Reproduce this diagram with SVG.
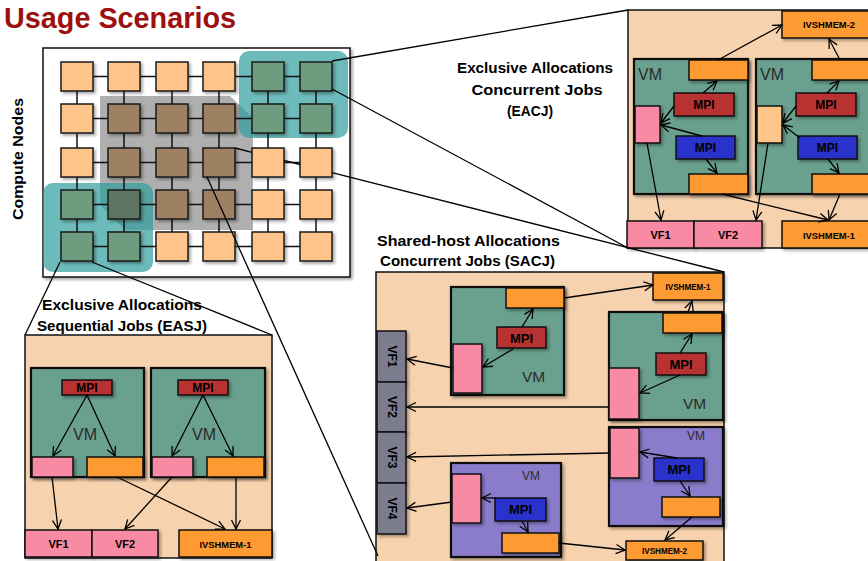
<svg xmlns="http://www.w3.org/2000/svg" width="868" height="561" viewBox="0 0 868 561">
<defs>
<filter id="sh" x="-20%" y="-20%" width="150%" height="150%"><feDropShadow dx="2" dy="2" stdDeviation="1.5" flood-color="#000" flood-opacity="0.35"/></filter>
<marker id="ah" markerUnits="userSpaceOnUse" markerWidth="12" markerHeight="12" refX="10" refY="6" orient="auto" viewBox="0 0 12 12"><path d="M1,1.5 L10,6 L1,10.5" fill="none" stroke="#000" stroke-width="1.3"/></marker>
</defs>
<style>
text{font-family:"Liberation Sans",Arial,sans-serif}
.t{font-weight:bold;fill:#000}
.c{text-anchor:middle}
.title{font-weight:bold;fill:#9E0F0F;font-size:30px}
.gn{stroke:#1a1a1a;stroke-width:1.5;filter:url(#sh)}
.o{fill:#FFC489}.g{fill:#6E9C7E}.b{fill:#9E8064}.d{fill:#5F7564}
.box{stroke:#111;stroke-width:1.5;filter:url(#sh)}
.vmg{fill:#6AA08E;stroke:#111;stroke-width:2.2;filter:url(#sh)}
.vmp{fill:#8A7CCB;stroke:#111;stroke-width:2.2;filter:url(#sh)}
.pnl{fill:#F6D2AE;stroke:#111;stroke-width:1.5}
.or{fill:#FD9A33}.pk{fill:#F98AA3}.rd{fill:#B93232}.bl{fill:#2B33CC}.lo{fill:#FFC68A}.vf{fill:#7C7B8F}
.ln{stroke:#000;stroke-width:1.3;fill:none}
.gl{stroke:#111;stroke-width:1.5;fill:none}
.ar{stroke:#000;stroke-width:1.3;fill:none;marker-end:url(#ah)}
.vm{fill:#2a2a2a}
</style>

<text class="title" x="4" y="28" textLength="232" lengthAdjust="spacingAndGlyphs">Usage Scenarios</text>
<text class="t c" font-size="14.5" transform="translate(23,159) rotate(-90)" textLength="122" lengthAdjust="spacingAndGlyphs">Compute Nodes</text>

<g id="grid-panel">
<rect x="43" y="48" width="307" height="229" fill="#fff" stroke="#111" stroke-width="1.5" filter="url(#sh)"/>
<polygon points="100,96 230,96 253,118 253,230 125,230 100,205" fill="#7a7a7a" fill-opacity="0.6"/>
<rect x="239" y="51" width="109" height="87" rx="10" fill="#2E9E9C" fill-opacity="0.7"/>
<rect x="43" y="183" width="110" height="89" rx="10" fill="#2E9E9C" fill-opacity="0.7"/>
</g>

<g id="connectors">
<path class="gl" d="M93,76.5H108M140,76.5H156M188,76.5H203M235,76.5H252M284,76.5H300
M93,118.5H108M140,118.5H156M188,118.5H203M235,118.5H252M284,118.5H300
M93,162.5H108M140,162.5H156M188,162.5H203M235,162.5H252M284,162.5H300
M93,204.5H108M140,204.5H156M188,204.5H203M235,204.5H252M284,204.5H300
M93,246.5H108M140,246.5H156M188,246.5H203M235,246.5H252M284,246.5H300
M77,91V104M77,133V148M77,177V190M77,219V232
M124,91V104M124,133V148M124,177V190M124,219V232
M172,91V104M172,133V148M172,177V190M172,219V232
M219,91V104M219,133V148M219,177V190M219,219V232
M268,91V104M268,133V148M268,177V190M268,219V232
M316,91V104M316,133V148M316,177V190M316,219V232"/>
</g>

<g id="n-r0c0"><rect class="gn o" x="61" y="62" width="32" height="29"/></g>
<g id="n-r0c1"><rect class="gn o" x="108" y="62" width="32" height="29"/></g>
<g id="n-r0c2"><rect class="gn o" x="156" y="62" width="32" height="29"/></g>
<g id="n-r0c3"><rect class="gn o" x="203" y="62" width="32" height="29"/></g>
<g id="n-r0c4"><rect class="gn g" x="252" y="62" width="32" height="29"/></g>
<g id="n-r0c5"><rect class="gn g" x="300" y="62" width="32" height="29"/></g>
<g id="n-r1c0"><rect class="gn o" x="61" y="104" width="32" height="29"/></g>
<g id="n-r1c1"><rect class="gn b" x="108" y="104" width="32" height="29"/></g>
<g id="n-r1c2"><rect class="gn b" x="156" y="104" width="32" height="29"/></g>
<g id="n-r1c3"><rect class="gn b" x="203" y="104" width="32" height="29"/></g>
<g id="n-r1c4"><rect class="gn g" x="252" y="104" width="32" height="29"/></g>
<g id="n-r1c5"><rect class="gn g" x="300" y="104" width="32" height="29"/></g>
<g id="n-r2c0"><rect class="gn o" x="61" y="148" width="32" height="29"/></g>
<g id="n-r2c1"><rect class="gn b" x="108" y="148" width="32" height="29"/></g>
<g id="n-r2c2"><rect class="gn b" x="156" y="148" width="32" height="29"/></g>
<g id="n-r2c3"><rect class="gn b" x="203" y="148" width="32" height="29"/></g>
<g id="n-r2c4"><rect class="gn o" x="252" y="148" width="32" height="29"/></g>
<g id="n-r2c5"><rect class="gn o" x="300" y="148" width="32" height="29"/></g>
<g id="n-r3c0"><rect class="gn g" x="61" y="190" width="32" height="29"/></g>
<g id="n-r3c1"><rect class="gn d" x="108" y="190" width="32" height="29"/></g>
<g id="n-r3c2"><rect class="gn b" x="156" y="190" width="32" height="29"/></g>
<g id="n-r3c3"><rect class="gn b" x="203" y="190" width="32" height="29"/></g>
<g id="n-r3c4"><rect class="gn o" x="252" y="190" width="32" height="29"/></g>
<g id="n-r3c5"><rect class="gn o" x="300" y="190" width="32" height="29"/></g>
<g id="n-r4c0"><rect class="gn g" x="61" y="232" width="32" height="29"/></g>
<g id="n-r4c1"><rect class="gn g" x="108" y="232" width="32" height="29"/></g>
<g id="n-r4c2"><rect class="gn o" x="156" y="232" width="32" height="29"/></g>
<g id="n-r4c3"><rect class="gn o" x="203" y="232" width="32" height="29"/></g>
<g id="n-r4c4"><rect class="gn o" x="252" y="232" width="32" height="29"/></g>
<g id="n-r4c5"><rect class="gn o" x="300" y="232" width="32" height="29"/></g>

<!-- EACJ -->
<g id="eacj-panel"><rect class="pnl" x="628" y="10" width="260" height="238"/></g>
<g id="eacj-label">
<text class="t c" font-size="15.5" x="535" y="73" textLength="156" lengthAdjust="spacingAndGlyphs">Exclusive Allocations</text>
<text class="t c" font-size="15.5" x="537" y="95" textLength="131" lengthAdjust="spacingAndGlyphs">Concurrent Jobs</text>
<text class="t c" font-size="15.5" x="530" y="116" textLength="46" lengthAdjust="spacingAndGlyphs">(EACJ)</text>
</g>
<g id="eacj-ivshmem2"><rect class="box or" x="782" y="11" width="90" height="27"/><text class="t c" font-size="9.5" x="829" y="28" textLength="52" lengthAdjust="spacingAndGlyphs">IVSHMEM-2</text></g>
<g id="eacj-vm1">
<rect class="vmg" x="634" y="59" width="114" height="135"/>
<text class="vm" font-size="16" x="638" y="80">VM</text>
<rect class="box or" x="689" y="60" width="59" height="20"/>
<rect class="box rd" x="674" y="93" width="60" height="23"/><text class="t c" font-size="12" x="704" y="109">MPI</text>
<rect class="box pk" x="635" y="106" width="25" height="37"/>
<rect class="box bl" x="676" y="136" width="59" height="23"/><text class="t c" font-size="12" x="705.5" y="152">MPI</text>
<rect class="box or" x="689" y="174" width="59" height="20"/>
</g>
<g id="eacj-vm2">
<rect class="vmg" x="756" y="59" width="116" height="135"/>
<text class="vm" font-size="16" x="760" y="80">VM</text>
<rect class="box or" x="812" y="60" width="60" height="20"/>
<rect class="box rd" x="796" y="93" width="60" height="23"/><text class="t c" font-size="12" x="826" y="109">MPI</text>
<rect class="box lo" x="757" y="106" width="25" height="37"/>
<rect class="box bl" x="798" y="136" width="59" height="23"/><text class="t c" font-size="12" x="827.5" y="152">MPI</text>
<rect class="box or" x="812" y="174" width="60" height="20"/>
</g>
<g id="eacj-vf1"><rect class="box pk" x="627" y="221" width="67" height="27"/><text class="t c" font-size="11" x="660.5" y="239">VF1</text></g>
<g id="eacj-vf2"><rect class="box pk" x="694" y="221" width="68" height="27"/><text class="t c" font-size="11" x="728" y="239">VF2</text></g>
<g id="eacj-ivshmem1"><rect class="box or" x="782" y="221" width="90" height="27"/><text class="t c" font-size="9.5" x="829" y="239" textLength="52" lengthAdjust="spacingAndGlyphs">IVSHMEM-1</text></g>

<!-- SACJ -->
<g id="sacj-label">
<text class="t" font-size="15.5" x="377" y="246" textLength="183" lengthAdjust="spacingAndGlyphs">Shared-host Allocations</text>
<text class="t" font-size="15.5" x="380" y="266" textLength="175" lengthAdjust="spacingAndGlyphs">Concurrent Jobs (SACJ)</text>
</g>
<g id="sacj-panel"><rect class="pnl" x="376" y="272" width="348" height="300"/></g>
<g id="sacj-ivshmem1"><rect class="box or" x="653" y="273" width="70" height="27"/><text class="t c" font-size="8.5" x="688" y="290" textLength="45" lengthAdjust="spacingAndGlyphs">IVSHMEM-1</text></g>
<g id="sacj-vf1"><rect class="box vf" x="377" y="331" width="29" height="51"/><text class="t c" font-size="12" transform="translate(387.5,356.5) rotate(90)">VF1</text></g>
<g id="sacj-vf2"><rect class="box vf" x="377" y="382" width="29" height="50"/><text class="t c" font-size="12" transform="translate(387.5,407) rotate(90)">VF2</text></g>
<g id="sacj-vf3"><rect class="box vf" x="377" y="432" width="29" height="51"/><text class="t c" font-size="12" transform="translate(387.5,457.5) rotate(90)">VF3</text></g>
<g id="sacj-vf4"><rect class="box vf" x="377" y="483" width="29" height="51"/><text class="t c" font-size="12" transform="translate(387.5,508.5) rotate(90)">VF4</text></g>
<g id="sacj-vm1">
<rect class="vmg" x="451" y="287" width="113" height="108"/>
<rect class="box or" x="506" y="288" width="58" height="20"/>
<rect class="box rd" x="497" y="327" width="49" height="21"/><text class="t c" font-size="13" x="521.5" y="342.5">MPI</text>
<rect class="box pk" x="453" y="344" width="29" height="49"/>
<text class="vm" font-size="15.5" x="522" y="382">VM</text>
</g>
<g id="sacj-vm2">
<rect class="vmg" x="609" y="312" width="114" height="108"/>
<rect class="box or" x="663" y="313" width="59" height="20"/>
<rect class="box rd" x="656" y="353" width="50" height="22"/><text class="t c" font-size="13" x="681" y="368.5">MPI</text>
<rect class="box pk" x="609" y="368" width="30" height="51"/>
<text class="vm" font-size="15.5" x="683" y="409">VM</text>
</g>
<g id="sacj-vm3">
<rect class="vmp" x="609" y="427" width="114" height="99"/>
<rect class="box pk" x="610" y="428" width="29" height="50"/>
<rect class="box bl" x="654" y="458" width="50" height="23"/><text class="t c" font-size="13" x="679" y="474">MPI</text>
<rect class="box or" x="662" y="497" width="58" height="20"/>
<text class="vm" font-size="12" x="687" y="440">VM</text>
</g>
<g id="sacj-vm4">
<rect class="vmp" x="451" y="463" width="110" height="94"/>
<rect class="box pk" x="452" y="474" width="29" height="49"/>
<rect class="box bl" x="495" y="498" width="51" height="23"/><text class="t c" font-size="13" x="520.5" y="514">MPI</text>
<rect class="box or" x="502" y="533" width="57" height="20"/>
<text class="vm" font-size="12" x="522" y="480">VM</text>
</g>
<g id="sacj-ivshmem2"><rect class="box or" x="626" y="541" width="77" height="19"/><text class="t c" font-size="8.5" x="664.5" y="554" textLength="45" lengthAdjust="spacingAndGlyphs">IVSHMEM-2</text></g>

<!-- EASJ -->
<g id="easj-label">
<text class="t" font-size="15.5" x="42" y="310" textLength="160" lengthAdjust="spacingAndGlyphs">Exclusive Allocations</text>
<text class="t" font-size="15.5" x="37" y="331" textLength="170" lengthAdjust="spacingAndGlyphs">Sequential Jobs (EASJ)</text>
</g>
<g id="easj-panel"><rect class="pnl" x="25" y="335" width="247" height="223"/></g>
<g id="easj-vm1">
<rect class="vmg" x="31" y="368" width="113" height="109"/>
<rect class="box rd" x="62" y="380" width="50" height="15"/><text class="t c" font-size="12" x="87" y="392">MPI</text>
<text class="vm" font-size="16" x="73" y="440">VM</text>
<rect class="box pk" x="32" y="457" width="41" height="20"/>
<rect class="box or" x="87" y="457" width="56" height="20"/>
</g>
<g id="easj-vm2">
<rect class="vmg" x="151" y="368" width="114" height="109"/>
<rect class="box rd" x="178" y="380" width="50" height="15"/><text class="t c" font-size="12" x="203" y="392">MPI</text>
<text class="vm" font-size="16" x="192" y="440">VM</text>
<rect class="box pk" x="152" y="457" width="41" height="20"/>
<rect class="box or" x="207" y="457" width="57" height="20"/>
</g>
<g id="easj-vf1"><rect class="box pk" x="25" y="530" width="67" height="27"/><text class="t c" font-size="11" x="58.5" y="548">VF1</text></g>
<g id="easj-vf2"><rect class="box pk" x="92" y="530" width="66" height="27"/><text class="t c" font-size="11" x="125" y="548">VF2</text></g>
<g id="easj-ivshmem1"><rect class="box or" x="179" y="530" width="93" height="27"/><text class="t c" font-size="9.5" x="225.5" y="548" textLength="52" lengthAdjust="spacingAndGlyphs">IVSHMEM-1</text></g>

<g id="callouts-and-arrows">
<path class="ln" d="M332,61 L628,10"/>
<path class="ln" d="M332,89 L628,248"/>
<path class="ln" d="M235,148 L252,152.3 M284,160.4 L300,164.5 M332,172.6 L724,272"/>
<path class="ln" d="M207,177 L378,556"/>
<path class="ln" d="M60,262 L25,335"/>
<path class="ln" d="M92,262 L272,335"/>
<path class="ar" d="M718,60 L782,25"/>
<path class="ar" d="M840,60 L829,39"/>
<path class="ar" d="M703,93 L717,81"/>
<path class="ar" d="M827,93 L839,81"/>
<path class="ar" d="M674,106 L661,123"/>
<path class="ar" d="M796,106 L783,123"/>
<path class="ar" d="M702,136 L661,125"/>
<path class="ar" d="M800,138 L783,125"/>
<path class="ar" d="M706,159 L717,173"/>
<path class="ar" d="M828,159 L839,173"/>
<path class="ar" d="M647,143 L661,220"/>
<path class="ar" d="M768,143 L756,220"/>
<path class="ar" d="M722,194 L828,220"/>
<path class="ar" d="M840,194 L829,220"/>
<path class="ar" d="M522,327 L533,309"/>
<path class="ar" d="M513,349 L483,367"/>
<path class="ar" d="M453,368 L407,359"/>
<path class="ar" d="M564,298 L653,285"/>
<path class="ar" d="M688,312 L692,301"/>
<path class="ar" d="M680,353 L692,334"/>
<path class="ar" d="M680,375 L640,393"/>
<path class="ar" d="M609,407 L407,407"/>
<path class="ar" d="M677,458 L640,452"/>
<path class="ar" d="M680,481 L690,496"/>
<path class="ar" d="M692,517 L665,540"/>
<path class="ar" d="M610,453 L407,457"/>
<path class="ar" d="M496,498 L482,498"/>
<path class="ar" d="M522,521 L528,532"/>
<path class="ar" d="M559,543 L625,550"/>
<path class="ar" d="M452,502 L407,508"/>
<path class="ar" d="M87,395 L53,456"/>
<path class="ar" d="M87,395 L115,456"/>
<path class="ar" d="M203,395 L172,456"/>
<path class="ar" d="M203,395 L233,456"/>
<path class="ar" d="M52,477 L58,529"/>
<path class="ar" d="M117,477 L225,529"/>
<path class="ar" d="M172,477 L125,529"/>
<path class="ar" d="M236,477 L236,529"/>
</g>
</svg>
